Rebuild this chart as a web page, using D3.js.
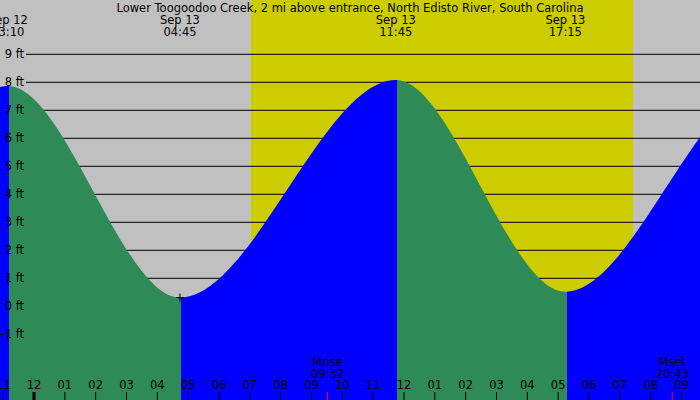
<!DOCTYPE html>
<html>
<head>
<meta charset="utf-8">
<script src="https://cdn.jsdelivr.net/npm/d3@7"></script>
<style>
body { margin: 0; }
svg { display: block; }
text { font-family: "DejaVu Sans", sans-serif; font-size: 11.5px; fill: black; }
</style>
</head>
<body>
<script>
var w = 700;
var h = 400;

var title = "Lower Toogoodoo Creek, 2 mi above entrance, North Edisto River, South Carolina";

// tide extremes (first, last two are off the picture, estimated)
var tideTimes = ["2023-09-12 10:40", "2023-09-12 16:55", "2023-09-12 23:10", "2023-09-13 04:45",
                 "2023-09-13 11:45", "2023-09-13 17:15", "2023-09-13 23:45", "2023-09-14 05:50"];
var tideLevels = [8.0, 0.6, 7.87, 0.31, 8.08, 0.52, 7.9, 0.4];
var shownExtremes = [2, 3, 4, 5];

var sunTimes = ["2023-09-13 07:03", "2023-09-13 19:27"];
var moonNames = ["Mrise", "Mset"];
var moonTimes = ["2023-09-13 09:32", "2023-09-13 20:43"];
var markTime = "2023-09-13 04:45";
var feetTicks = [-1, 0, 1, 2, 3, 4, 5, 6, 7, 8, 9];

var parse = d3.timeParse("%Y-%m-%d %H:%M");
var tides = tideTimes.map(function(t, i) { return {t: parse(t), v: tideLevels[i]}; });

var x = d3.scaleTime()
    .domain([parse("2023-09-13 00:00"), parse("2023-09-13 12:00")])
    .range([33.5, 403.5]);
var y = d3.scaleLinear()
    .domain([0, 9])
    .range([306.3, 54.3]);

var svg = d3.select("body").append("svg")
    .attr("width", w)
    .attr("height", h);

// night background
svg.append("rect")
    .attr("width", w)
    .attr("height", h)
    .attr("fill", "#c0c0c0");

// day
svg.append("rect")
    .attr("x", x(parse(sunTimes[0])))
    .attr("y", 0)
    .attr("width", x(parse(sunTimes[1])) - x(parse(sunTimes[0])))
    .attr("height", h)
    .attr("fill", "#cccc00");

// grid lines
svg.selectAll(".grid").data(feetTicks).enter().append("line")
    .attr("x1", 26)
    .attr("x2", w)
    .attr("y1", function(d) { return y(d); })
    .attr("y2", function(d) { return y(d); })
    .attr("stroke", "black")
    .attr("stroke-width", 1);

// tide area, split into rising / falling pieces
var area = d3.area()
    .x(function(d) { return x(d.t); })
    .y0(h)
    .y1(function(d) { return y(d.v); })
    .curve(d3.curveMonotoneX);

var defs = svg.append("defs");
for (var i = 0; i < tides.length - 1; i++) {
    var x0 = Math.round(x(tides[i].t) + 1.5), x1 = Math.round(x(tides[i + 1].t) + 1.5);
    defs.append("clipPath")
        .attr("id", "seg" + i)
        .append("rect")
        .attr("x", x0)
        .attr("y", 0)
        .attr("width", x1 - x0 + 1)
        .attr("height", h);
    svg.append("path")
        .datum(tides)
        .attr("d", area)
        .attr("clip-path", "url(#seg" + i + ")")
        .attr("fill", tides[i + 1].v > tides[i].v ? "#0000ff" : "#2e8b57");
}

// foot labels
svg.selectAll(".ft").data(feetTicks).enter().append("text")
    .attr("x", 24)
    .attr("y", function(d) { return y(d) + 4; })
    .attr("text-anchor", "end")
    .text(function(d) { return d + " ft"; });

// marker
var mx = x(parse(markTime));
var my = y(tideLevels[3]);
svg.append("path")
    .attr("d", "M" + (mx - 4) + "," + my + "H" + (mx + 4) + "M" + mx + "," + (my - 4) + "V" + (my + 4))
    .attr("stroke", "black")
    .attr("stroke-width", 1);

// title and extreme labels
svg.append("text")
    .attr("x", w / 2)
    .attr("y", 12)
    .attr("text-anchor", "middle")
    .text(title);

var fmtDay = d3.timeFormat("%b %d");
var fmtTime = d3.timeFormat("%H:%M");
shownExtremes.forEach(function(i) {
    var t = tides[i].t;
    svg.append("text")
        .attr("x", x(t))
        .attr("y", 24)
        .attr("text-anchor", "middle")
        .text(fmtDay(t));
    svg.append("text")
        .attr("x", x(t))
        .attr("y", 35.5)
        .attr("text-anchor", "middle")
        .text(fmtTime(t));
});

// hour axis
var hours = d3.timeHour.range(x.invert(0), x.invert(w));
var axis = svg.append("g")
    .attr("transform", "translate(0," + h + ")")
    .call(d3.axisTop(x).tickValues(hours).tickFormat(d3.timeFormat("%I")).tickSize(8).tickSizeOuter(0).tickPadding(3));
axis.select(".domain").remove();
axis.attr("font-family", null).attr("font-size", null);
axis.selectAll(".tick line")
    .attr("stroke", "black")
    .attr("stroke-width", function(d) { return d.getHours() === 0 ? 3 : 1; });

// moon rise / set
moonTimes.forEach(function(m, i) {
    var t = parse(m);
    svg.append("line")
        .attr("x1", x(t))
        .attr("x2", x(t))
        .attr("y1", h - 8)
        .attr("y2", h)
        .attr("stroke", "red");
    svg.append("text")
        .attr("x", x(t))
        .attr("y", 366)
        .attr("text-anchor", "middle")
        .text(moonNames[i]);
    svg.append("text")
        .attr("x", x(t))
        .attr("y", 378)
        .attr("text-anchor", "middle")
        .text(fmtTime(t));
});
</script>
</body>
</html>
